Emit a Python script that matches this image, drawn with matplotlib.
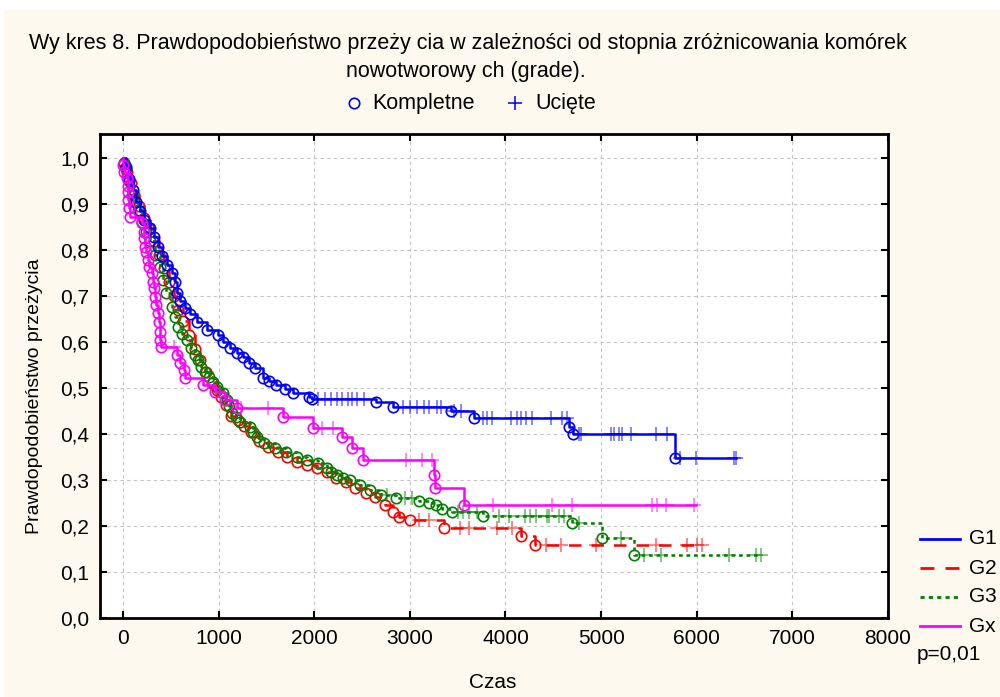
import numpy as np
import matplotlib.pyplot as plt
from matplotlib.lines import Line2D
from matplotlib.patches import Rectangle

plt.rcParams['font.family'] = ['Liberation Sans', 'DejaVu Sans']

# --- Kaplan-Meier data: event times, survival after each event, censored times, end of follow-up
g1_t = [30, 60, 100, 140, 180, 220, 280, 320, 365, 410, 460, 510, 540, 560, 600, 650, 700,
        770, 875, 990, 1050, 1115, 1190, 1255, 1320, 1380, 1460, 1530, 1605, 1690, 1775,
        1950, 1975, 2650, 2820, 3435, 3675, 4660, 4710, 5773]
g1_s = [0.98, 0.955, 0.93, 0.905, 0.885, 0.865, 0.848, 0.828, 0.807, 0.787, 0.768, 0.75,
        0.73, 0.707, 0.69, 0.674, 0.66, 0.643, 0.626, 0.615, 0.60, 0.587, 0.577, 0.567,
        0.555, 0.543, 0.522, 0.515, 0.507, 0.497, 0.489, 0.48, 0.476, 0.47, 0.459, 0.45,
        0.435, 0.415, 0.40, 0.348]
g1_cens = [2035, 2110, 2180, 2235, 2295, 2350, 2400, 2445, 2525, 2925, 3000, 3080, 3150,
           3205, 3280, 3330, 3465, 3540, 3760, 3810, 3860, 4060, 4125, 4165, 4215, 4280,
           4480, 4595, 4640, 4770, 4790, 5105, 5135, 5190, 5220, 5310, 5575, 5690, 5825,
           5990, 6390, 6410]
g1_end = 6410

g2_t = [10, 40, 80, 120, 170, 220, 270, 320, 380, 430, 480, 530, 580, 630, 690, 750, 810,
        870, 930, 980, 1030, 1080, 1130, 1200, 1270, 1340, 1420, 1520, 1620, 1720, 1820,
        1920, 2030, 2130, 2230, 2330, 2430, 2540, 2640, 2735, 2820, 2890, 3000, 3360,
        4165, 4310]
g2_s = [0.99, 0.97, 0.945, 0.92, 0.895, 0.87, 0.845, 0.82, 0.79, 0.76, 0.73, 0.70, 0.67,
        0.645, 0.615, 0.585, 0.56, 0.535, 0.51, 0.495, 0.48, 0.462, 0.44, 0.43, 0.418,
        0.405, 0.385, 0.372, 0.36, 0.35, 0.34, 0.333, 0.327, 0.318, 0.305, 0.295, 0.283,
        0.272, 0.262, 0.246, 0.23, 0.22, 0.213, 0.196, 0.178, 0.158]
g2_cens = [3100, 3200, 3520, 3620, 3915, 4070, 4425, 4580, 4950, 5575, 5900, 6000, 6055]
g2_end = 6055

g3_t = [10, 30, 60, 90, 120, 160, 200, 240, 280, 330, 385, 420, 455, 510, 545, 575, 620,
        665, 710, 750, 785, 820, 860, 905, 945, 980, 1045, 1090, 1110, 1140, 1180, 1220,
        1325, 1360, 1400, 1480, 1590, 1710, 1815, 1920, 2035, 2130, 2180, 2235, 2300, 2370,
        2475, 2580, 2700, 2860, 3100, 3205, 3270, 3340, 3445, 3760, 4700, 5010, 5345]
g3_s = [0.99, 0.975, 0.95, 0.92, 0.905, 0.887, 0.86, 0.84, 0.82, 0.79, 0.763, 0.735, 0.707,
        0.676, 0.655, 0.633, 0.618, 0.604, 0.588, 0.572, 0.56, 0.546, 0.535, 0.524, 0.513,
        0.502, 0.489, 0.474, 0.46, 0.446, 0.436, 0.426, 0.415, 0.404, 0.393, 0.38, 0.37,
        0.36, 0.35, 0.343, 0.337, 0.326, 0.318, 0.311, 0.305, 0.30, 0.289, 0.278, 0.267,
        0.26, 0.255, 0.25, 0.245, 0.238, 0.23, 0.222, 0.206, 0.174, 0.137]
g3_cens = [2760, 2950, 3020, 3500, 3560, 3620, 3700, 3935, 4040, 4200, 4260, 4320, 4430,
           4460, 4560, 4610, 4770, 5210, 5450, 5625, 6340, 6620, 6670]
g3_end = 6670

gx_t = [0, 15, 40, 48, 52, 55, 62, 70, 200, 215, 225, 230, 245, 260, 275, 300, 310, 320,
        335, 350, 365, 372, 385, 390, 395, 560, 595, 640, 645, 835, 960, 1065, 1190, 1670,
        1985, 2295, 2390, 2505, 3255, 3260, 3570]
gx_s = [0.985, 0.97, 0.957, 0.94, 0.926, 0.909, 0.891, 0.872, 0.859, 0.839, 0.826, 0.807,
        0.796, 0.778, 0.763, 0.75, 0.73, 0.717, 0.698, 0.68, 0.663, 0.643, 0.622, 0.604,
        0.589, 0.572, 0.554, 0.539, 0.522, 0.507, 0.491, 0.474, 0.457, 0.437, 0.413, 0.393,
        0.37, 0.343, 0.311, 0.283, 0.246]
gx_cens = [150, 530, 1230, 1520, 2080, 2200, 2965, 3130, 3235, 3865, 4490, 4695, 5530,
           5585, 5680, 5970]
gx_end = 5990

groups = ['G1', 'G2', 'G3', 'Gx']
colors = ['#0000ff', '#ff0000', '#008000', '#ff00ff']
styles = ['-', (0, (5, 4)), (0, (1.5, 1.5)), '-']
layer = [5, 3, 4, 6]  # red sits under green, magenta on top

data = [(g1_t, g1_s, g1_cens, g1_end), (g2_t, g2_s, g2_cens, g2_end),
        (g3_t, g3_s, g3_cens, g3_end), (gx_t, gx_s, gx_cens, gx_end)]

fig = plt.figure(figsize=(10, 6.97), dpi=100, facecolor='white')
fig.add_artist(Rectangle((0.004, 0), 0.996, 0.986, transform=fig.transFigure,
                         facecolor='#fdf9ee', edgecolor='none', zorder=-10))
ax = fig.add_axes([0.100, 0.1133, 0.788, 0.6944])
ax.set_facecolor('white')

for (t, s, cens, end), c, ls, z in zip(data, colors, styles, layer):
    t = np.array(t, dtype=float)
    s = np.array(s)
    tt = np.concatenate([[0], t, [end]])
    ss = np.concatenate([[1.0], s, [s[-1]]])
    ax.step(tt, ss, where='post', color=c, lw=1.8, ls=ls, zorder=z)
    ax.plot(t, s, 'o', ms=7.5, mfc='none', mec=c, mew=1.2, zorder=z + 0.5)
    cens = np.array(cens, dtype=float)
    idx = np.searchsorted(tt, cens, side='right') - 1
    ax.plot(cens, ss[idx], '+', ms=10, mew=1.1, color=c, alpha=0.6, zorder=z + 0.5)

ax.set_xlim(-240, 8000)
ax.set_ylim(0, 1.052)
ax.set_xticks(np.arange(0, 8001, 1000))
ax.set_yticks(np.arange(0, 1.01, 0.1))
ax.set_yticklabels([f'{v:.1f}'.replace('.', ',') for v in np.arange(0, 1.01, 0.1)])
ax.grid(True, color='#c4c4c4', ls=(0, (3, 3)), lw=0.8)
ax.tick_params(direction='in', length=5, width=1.5, top=True, right=True,
               labelsize=15, pad=8, colors='black')
for sp in ax.spines.values():
    sp.set_linewidth(2)

# titles and axis labels
fig.text(0.468, 1 - 44 / 697, 'Wy kres 8. Prawdopodobieństwo przeży cia w zależności od '
         'stopnia zróżnicowania komórek', ha='center', va='center', fontsize=15.5)
fig.text(0.466, 1 - 72 / 697, 'nowotworowy ch (grade).', ha='center', va='center',
         fontsize=15.5)
fig.text(0.493, 1 - 683 / 697, 'Czas', ha='center', va='center', fontsize=15)
fig.text(0.035, 1 - 396 / 697, 'Prawdopodobieństwo przeżycia', ha='center', va='center',
         rotation=90, fontsize=14)

# top legend: event / censored markers
ly = 1 - 103 / 697
fig.add_artist(Line2D([0.354], [ly], marker='o', ms=7.5, mfc='none', mec='#0000ff',
                      mew=1.2, transform=fig.transFigure))
fig.text(0.372, ly, 'Kompletne', va='center', fontsize=15.5)
fig.add_artist(Line2D([0.515], [ly], marker='+', ms=10, mew=1.1, color='#0000ff',
                      transform=fig.transFigure))
fig.text(0.535, ly, 'Ucięte', va='center', fontsize=15.5)

# right legend: groups
for i, (g, c, ls) in enumerate(zip(groups, colors, styles)):
    y = 1 - (539 + 29 * i) / 697
    fig.add_artist(Line2D([0.920, 0.960], [y, y], color=c, ls=ls, lw=2,
                          transform=fig.transFigure))
    fig.text(0.969, y, g, va='center', fontsize=15)
fig.text(0.917, 1 - 655 / 697, 'p=0,01', va='center', fontsize=15)

fig.savefig('out.png', dpi=100, facecolor=fig.get_facecolor())
